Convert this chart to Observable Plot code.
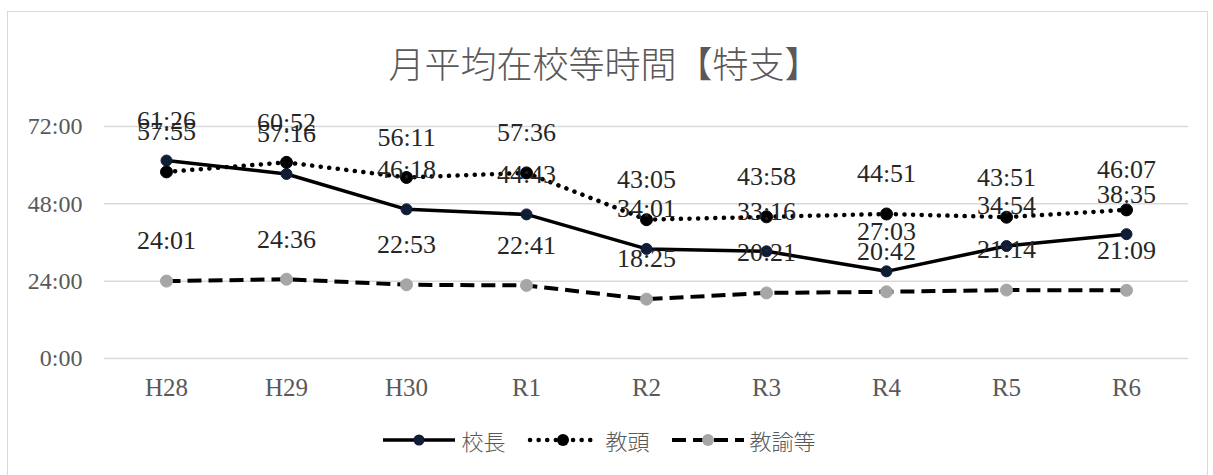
<!DOCTYPE html>
<html>
<head>
<meta charset="utf-8">
<script src="https://cdn.jsdelivr.net/npm/d3@7"></script>
<script src="https://cdn.jsdelivr.net/npm/@observablehq/plot@0.6"></script>
<style>
  body { margin: 0; background: #fff; width: 1213px; height: 475px; overflow: hidden; position: relative; }
  #frame { position: absolute; left: 7px; top: 11px; width: 1201px; height: 475px; border: 1px solid #d9d9d9; box-sizing: border-box; }
  #title { position: absolute; left: -2px; top: 38px; width: 1213px; text-align: center; font: 300 36px "Noto Sans CJK JP", sans-serif; color: #595959; line-height: 48px; }
  #chart { position: absolute; left: 0; top: 100px; }
  #legend { position: absolute; left: -7px; top: 424px; width: 1213px; display: flex; justify-content: center; align-items: center; gap: 22px; font: 300 22px "Noto Sans CJK JP", sans-serif; color: #595959; }
  #legend .item { display: flex; align-items: center; gap: 6px; }
</style>
</head>
<body>
<div id="frame"></div>
<div id="title">月平均在校等時間【特支】</div>
<div id="chart"></div>
<div id="legend"></div>
<script>
// School years on the x axis
const years = ["H28", "H29", "H30", "R1", "R2", "R3", "R4", "R5", "R6"];
// Series names
const seriesNames = ["校長", "教頭", "教諭等"];
// Monthly average hours at school, as h:mm
const principal = ["61:26", "57:16", "46:18", "44:43", "34:01", "33:16", "27:03", "34:54", "38:35"];
const vicePrincipal = ["57:55", "60:52", "56:11", "57:36", "43:05", "43:58", "44:51", "43:51", "46:07"];
const teachers = ["24:01", "24:36", "22:53", "22:41", "18:25", "20:21", "20:42", "21:14", "21:09"];
// y axis ticks, in hours
const yTicks = [0, 24, 48, 72];

const toHours = s => { const [h, m] = s.split(":").map(Number); return h + m / 60; };

const seriesValues = [principal, vicePrincipal, teachers];
const rows = seriesNames.flatMap((name, i) =>
  years.map((year, j) => ({ series: name, year, label: seriesValues[i][j], value: toHours(seriesValues[i][j]) }))
);

const styles = {
  "校長":   { dash: null,      cap: "butt",  width: 3.5, fill: "#0f1d36", stroke: "#0f1d36", r: 5.5 },
  "教頭":   { dash: "0.1 8.5", cap: "round", width: 4.5, fill: "#000000", stroke: "#000000", r: 6 },
  "教諭等": { dash: "14 7",    cap: "butt",  width: 4,   fill: "#a6a6a6", stroke: "#a6a6a6", r: 6 }
};

const lineMarks = seriesNames.map(name => Plot.line(rows.filter(d => d.series === name), {
  x: "year", y: "value", stroke: "#000", strokeWidth: styles[name].width,
  strokeDasharray: styles[name].dash, strokeLinecap: styles[name].cap, strokeLinejoin: "round"
}));
const dotMarks = seriesNames.map(name => Plot.dot(rows.filter(d => d.series === name), {
  x: "year", y: "value", r: styles[name].r, fill: styles[name].fill, stroke: styles[name].stroke, strokeWidth: 1
}));

const chart = Plot.plot({
  width: 1213,
  height: 320,
  marginLeft: 104,
  marginRight: 25,
  marginTop: 26,
  marginBottom: 62,
  style: { fontFamily: "'Liberation Serif', serif", background: "transparent" },
  x: { type: "point", domain: years, padding: 0.5 },
  y: { domain: [0, 72] },
  marks: [
    Plot.gridY(yTicks, { stroke: "#d9d9d9", strokeOpacity: 1, strokeWidth: 1.5 }),
    Plot.axisY(yTicks, { tickSize: 0, tickPadding: 22, tickFormat: d => `${d}:00`, fontSize: 24, fill: "#595959", label: null }),
    Plot.axisX({ tickSize: 0, tickPadding: 20, fontSize: 25, fill: "#595959", label: null }),
    ...lineMarks,
    ...dotMarks,
    Plot.text(rows, { x: "year", y: "value", text: "label", dy: -40, fontSize: 26, fill: "#262626", fontFamily: "'Liberation Serif', serif" })
  ]
});
document.getElementById("chart").appendChild(chart);

// Legend entries: line sample with marker, then the series name
const legend = document.getElementById("legend");
const ns = "http://www.w3.org/2000/svg";
seriesNames.forEach(name => {
  const s = styles[name];
  const item = document.createElement("div");
  item.className = "item";
  const svg = document.createElementNS(ns, "svg");
  svg.setAttribute("width", 72);
  svg.setAttribute("height", 20);
  const line = document.createElementNS(ns, "line");
  line.setAttribute("x1", s.cap === "round" ? 3 : 0);
  line.setAttribute("x2", s.cap === "round" ? 69 : 72);
  line.setAttribute("y1", 10);
  line.setAttribute("y2", 10);
  line.setAttribute("stroke", "#000");
  line.setAttribute("stroke-width", s.width);
  if (s.dash) line.setAttribute("stroke-dasharray", s.dash);
  line.setAttribute("stroke-linecap", s.cap);
  svg.appendChild(line);
  const c = document.createElementNS(ns, "circle");
  c.setAttribute("cx", 36);
  c.setAttribute("cy", 10);
  c.setAttribute("r", s.r);
  c.setAttribute("fill", s.fill);
  svg.appendChild(c);
  item.appendChild(svg);
  const label = document.createElement("span");
  label.textContent = name;
  item.appendChild(label);
  legend.appendChild(item);
});
</script>
</body>
</html>
